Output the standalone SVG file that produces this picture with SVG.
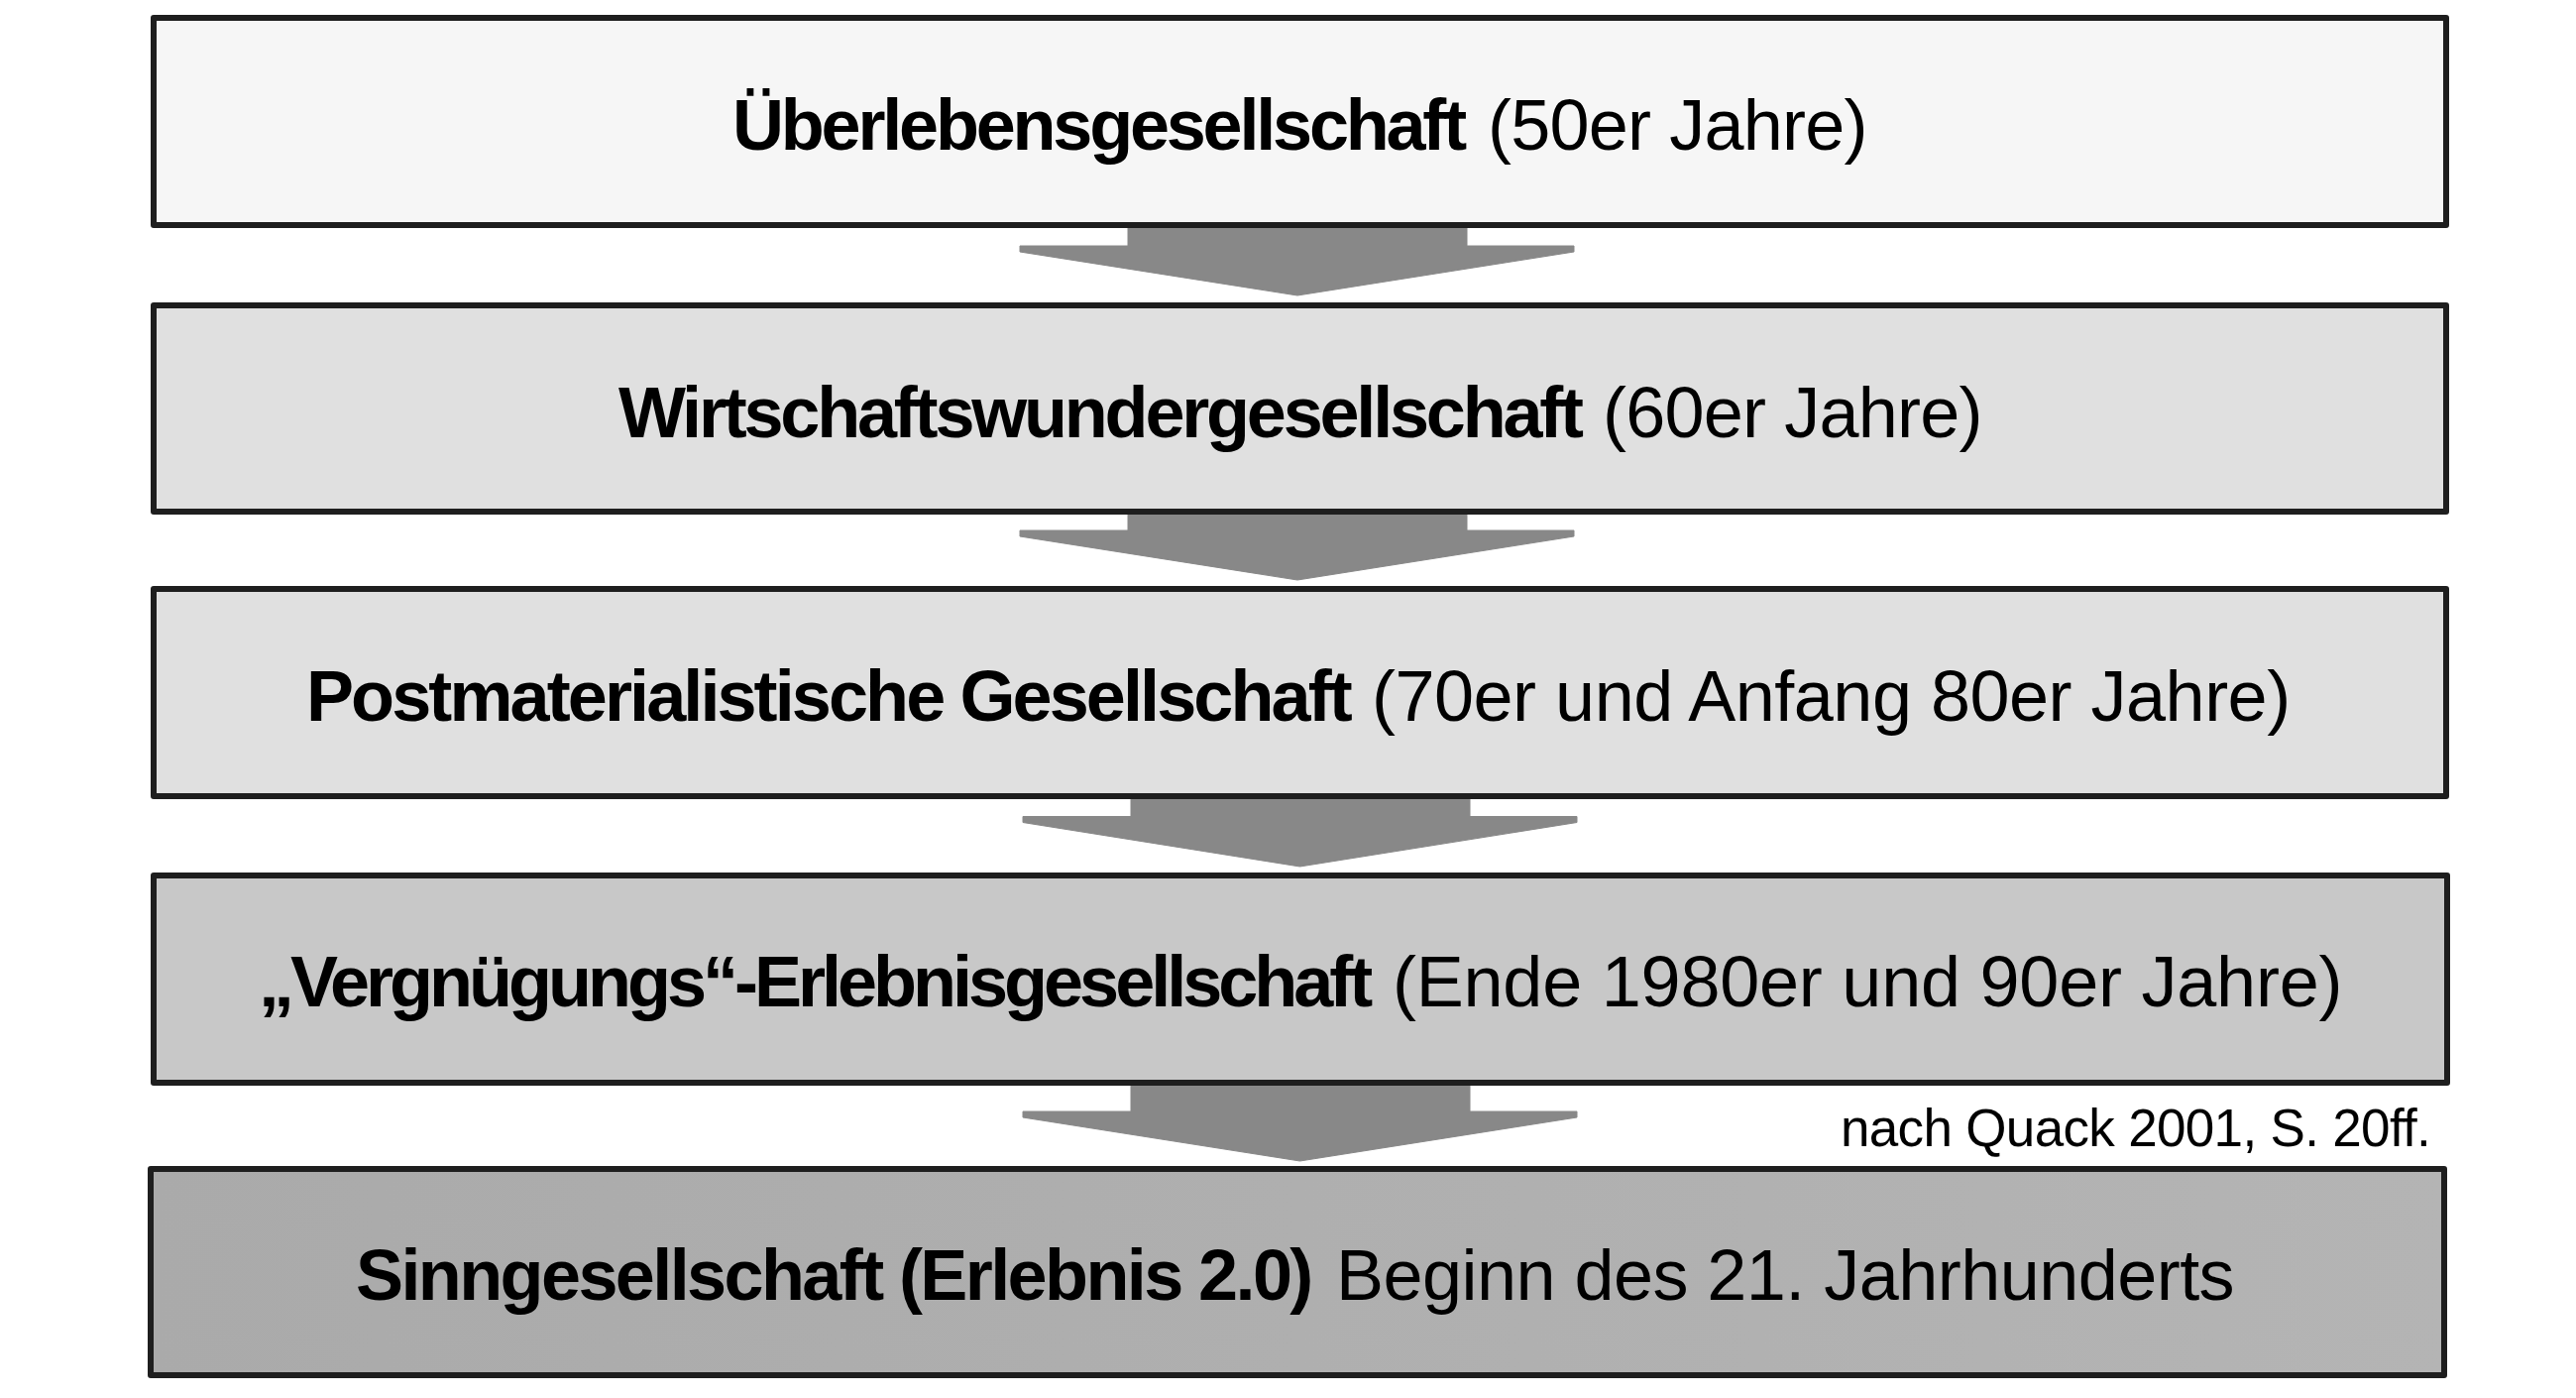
<svg xmlns="http://www.w3.org/2000/svg" width="2599" height="1410" viewBox="0 0 2599 1410">
<style>
.box{stroke:#1e1e1e;stroke-width:6;stroke-linejoin:round}
.t{font-family:"Liberation Sans",Arial,sans-serif;font-size:72px;fill:#000}
.b{font-weight:bold}
.note{font-family:"Liberation Sans",Arial,sans-serif;font-size:53px;fill:#000;letter-spacing:-0.67px}
.arrow{fill:#888888;stroke:#888888;stroke-width:1;stroke-linejoin:round}
</style>
<defs>
<linearGradient id="g5" x1="0" y1="0" x2="1" y2="0">
<stop offset="0" stop-color="#aaaaaa"/>
<stop offset="1" stop-color="#b4b4b4"/>
</linearGradient>
</defs>
<rect width="2599" height="1410" fill="#ffffff"/>
<g id="connectors">
<polygon class="arrow" points="1138,227 1480,227 1480,248 1588,248 1588,254 1309,298 1029,254 1029,248 1138,248"/>
<polygon class="arrow" points="1138,516 1480,516 1480,535 1588,535 1588,541 1309,585 1029,541 1029,535 1138,535"/>
<polygon class="arrow" points="1141,803 1483,803 1483,823.5 1591,823.5 1591,829.5 1311.5,874 1032,829.5 1032,823.5 1141,823.5"/>
<polygon class="arrow" points="1141,1092 1483,1092 1483,1121 1591,1121 1591,1127 1311.5,1171 1032,1127 1032,1121 1141,1121"/>
</g>
<g id="node1">
<rect class="box" x="155" y="18" width="2313" height="209" fill="#f6f6f6"/>
<text class="t" y="151"><tspan class="b" x="739" letter-spacing="-3.2">Überlebensgesellschaft</tspan><tspan x="1501" letter-spacing="-0.8">(50er Jahre)</tspan></text>
</g>
<g id="node2">
<rect class="box" x="155" y="308" width="2313" height="208" fill="#e0e0e0"/>
<text class="t" y="441"><tspan class="b" x="624" letter-spacing="-3.2">Wirtschaftswundergesellschaft</tspan><tspan x="1617" letter-spacing="-0.8">(60er Jahre)</tspan></text>
</g>
<g id="node3">
<rect class="box" x="155" y="594" width="2313" height="209" fill="#e0e0e0"/>
<text class="t" y="727"><tspan class="b" x="309" letter-spacing="-2.9">Postmaterialistische Gesellschaft</tspan><tspan x="1384" letter-spacing="-0.5">(70er und Anfang 80er Jahre)</tspan></text>
</g>
<g id="node4">
<rect class="box" x="155" y="883" width="2314" height="209" fill="#c8c8c8"/>
<text class="t" y="1015"><tspan class="b" x="261" letter-spacing="-4">„Vergnügungs“-Erlebnisgesellschaft</tspan><tspan x="1405" letter-spacing="-0.23">(Ende 1980er und 90er Jahre)</tspan></text>
</g>
<g id="note">
<text class="note" x="1857" y="1156">nach Quack 2001, S. 20ff.</text>
</g>
<g id="node5">
<rect class="box" x="152" y="1179" width="2314" height="208" fill="url(#g5)"/>
<text class="t" y="1311"><tspan class="b" x="359" letter-spacing="-2.6">Sinngesellschaft (Erlebnis 2.0)</tspan><tspan x="1348" letter-spacing="-0.54">Beginn des 21. Jahrhunderts</tspan></text>
</g>
</svg>
